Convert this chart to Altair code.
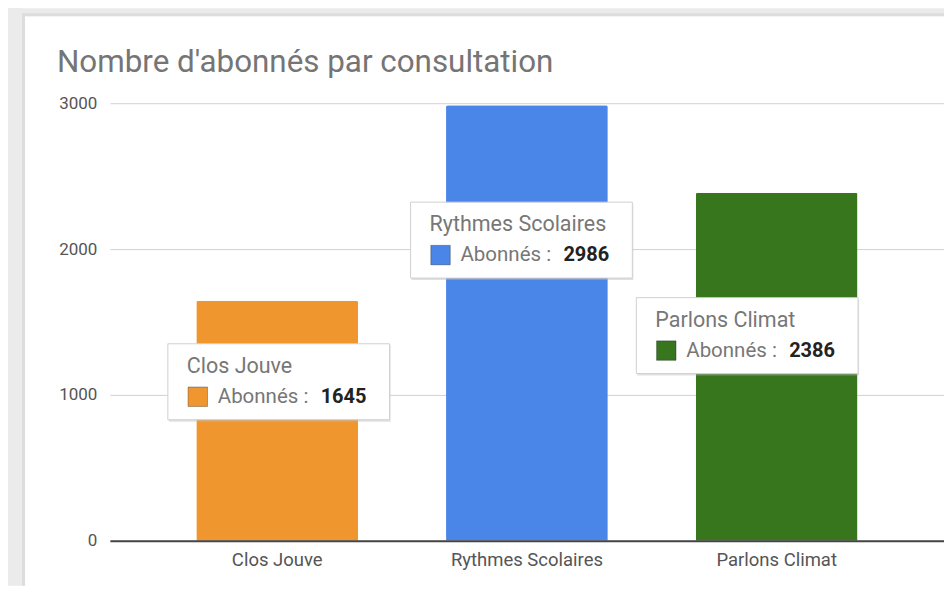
import altair as alt
import pandas as pd

# ---- data ----
categories = ["Clos Jouve", "Rythmes Scolaires", "Parlons Climat"]
subscribers = [1645, 2986, 2386]
bar_colors = ["#f0962f", "#4a86e8", "#38761d"]
series_name = "Abonnés"
y_ticks = [0, 1000, 2000, 3000]
chart_title = "Nombre d'abonnés par consultation"

df = pd.DataFrame({"cat": categories, "value": subscribers})

# ---- styles ----
FONT = "Roboto"
W, H = 835, 438
# tooltip box top-left offset (px) from the bar's top centre
tip_offsets = {
    "Clos Jouve": (-109.5, 43),
    "Rythmes Scolaires": (-116.5, 97),
    "Parlons Climat": (-140.5, 105),
}
BOX_W, BOX_H = 222, 76

x_enc = alt.X(
    "cat:N",
    sort=categories,
    scale=alt.Scale(paddingInner=0.352, paddingOuter=0.346),
    axis=alt.Axis(
        title=None, labelAngle=0, labelFontSize=18.5, labelColor="#555555",
        labelFont=FONT, ticks=False, domainColor="#444444", domainWidth=2,
        labelPadding=10, grid=False, zindex=1,
    ),
)
y_enc = alt.Y(
    "value:Q",
    scale=alt.Scale(domain=[0, 3000], nice=False),
    axis=alt.Axis(
        title=None, values=y_ticks, format="d", labelFontSize=17,
        labelColor="#555555", labelFont=FONT, ticks=False, domain=False,
        labelPadding=13, gridColor="#d2d2d2", gridWidth=1,
    ),
)
color_enc = alt.Color(
    "cat:N", scale=alt.Scale(domain=categories, range=bar_colors), legend=None
)

base = alt.Chart(df)

# grey frame around the white card (top and left strips with a soft edge)
frame_data = alt.Data(values=[{"k": 1}])
frame = []
for (x1, x2, y1, y2, col) in [
    (-102, W, -95, -87, "#ebebeb"),
    (-102, -85, -95, H + 45, "#ebebeb"),
    (-88, W, -90, -87, "#dddddd"),
    (-88, -85, -90, H + 45, "#dddddd"),
]:
    frame.append(
        alt.Chart(frame_data).mark_rect(color=col).encode(
            x=alt.value(x1), x2=alt.value(x2), y=alt.value(y1), y2=alt.value(y2)
        )
    )

bars = base.mark_bar(cornerRadiusTopLeft=2, cornerRadiusTopRight=2).encode(
    x=x_enc, y=y_enc, color=color_enc
)

layers = frame + [bars]
for cat in categories:
    ox, oy = tip_offsets[cat]
    sub = base.transform_filter(alt.datum.cat == cat)
    pos = dict(x=alt.X("cat:N", sort=categories), y=alt.Y("value:Q"))
    box_shadow = sub.mark_rect(
        width=BOX_W, height=BOX_H, xOffset=ox + BOX_W / 2 + 1,
        yOffset=oy + BOX_H / 2 + 2, color="#bbbbbb", opacity=0.45,
    ).encode(**pos)
    box = sub.mark_rect(
        width=BOX_W, height=BOX_H, xOffset=ox + BOX_W / 2,
        yOffset=oy + BOX_H / 2, fill="white", stroke="#d0d0d0", strokeWidth=1,
    ).encode(**pos)
    name = sub.mark_text(
        align="left", baseline="middle", font=FONT, fontSize=21.5,
        color="#777777", xOffset=ox + 19, yOffset=oy + 23,
    ).encode(text="cat:N", **pos)
    swatch = sub.mark_square(
        size=380, filled=True, stroke="black", strokeOpacity=0.3,
        strokeWidth=1, opacity=1, xOffset=ox + 30, yOffset=oy + 53,
    ).encode(color=color_enc, **pos)
    label = sub.mark_text(
        align="left", baseline="middle", font=FONT, fontSize=20.5,
        color="#777777", xOffset=ox + 50, yOffset=oy + 53,
    ).encode(text=alt.value(series_name + " :"), **pos)
    val = sub.mark_text(
        align="left", baseline="middle", font=FONT, fontSize=20,
        fontWeight="bold", color="#222222", xOffset=ox + 153, yOffset=oy + 53,
    ).encode(text=alt.Text("value:Q", format="d"), **pos)
    layers += [box_shadow, box, name, swatch, label, val]

chart = alt.layer(*layers).properties(
    width=W,
    height=H,
    title=alt.TitleParams(
        chart_title, anchor="start", frame="group", font=FONT, fontSize=31.4,
        fontWeight="normal", color="#757575", dx=-53, dy=74,
    ),
    background="white",
    padding={"left": 102, "top": 95, "right": 0, "bottom": 45},
    autosize=alt.AutoSizeParams(type="none"),
).configure_view(stroke=None)

chart.save("out.html", embed_options={"renderer": "svg", "actions": False})
